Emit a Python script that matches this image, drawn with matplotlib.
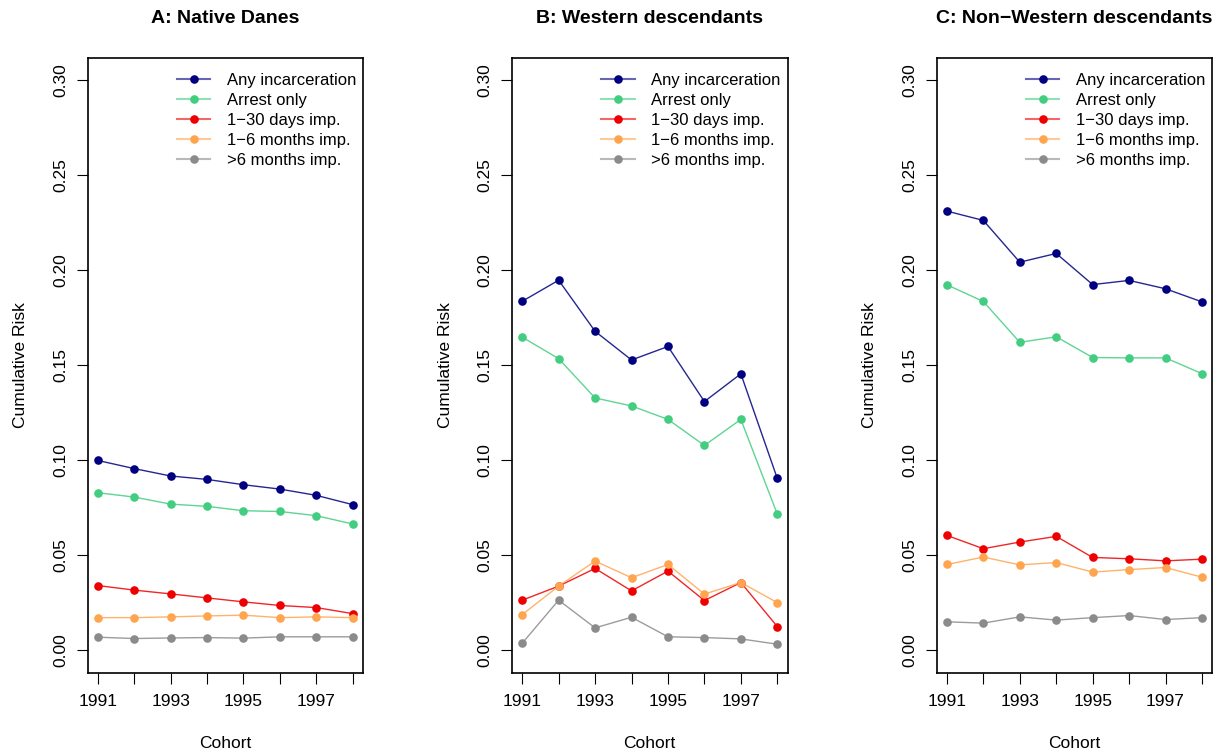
import numpy as np
import matplotlib.pyplot as plt
from matplotlib.lines import Line2D

plt.rcParams['font.family'] = ['Liberation Sans', 'DejaVu Sans']

cohorts = [1991, 1992, 1993, 1994, 1995, 1996, 1997, 1998]

series_names = ["Any incarceration", "Arrest only", "1\u221230 days imp.",
                "1\u22126 months imp.", ">6 months imp."]
series_colors = ["#000080", "#43CD80", "#EE0000", "#FFA54F", "#8B8B8B"]

# A: Native Danes
danes_any = [0.0998, 0.0955, 0.0916, 0.0898, 0.0870, 0.0847, 0.0814, 0.0765]
danes_arrest = [0.0828, 0.0805, 0.0768, 0.0756, 0.0733, 0.0729, 0.0707, 0.0663]
danes_30d = [0.0339, 0.0315, 0.0295, 0.0274, 0.0253, 0.0234, 0.0223, 0.0191]
danes_6m = [0.0170, 0.0170, 0.0174, 0.0179, 0.0183, 0.0170, 0.0174, 0.0170]
danes_long = [0.0067, 0.0060, 0.0063, 0.0065, 0.0062, 0.0069, 0.0069, 0.0069]

# B: Western descendants
west_any = [0.1836, 0.1947, 0.1678, 0.1527, 0.1598, 0.1308, 0.1454, 0.0903]
west_arrest = [0.1647, 0.1534, 0.1327, 0.1285, 0.1214, 0.1077, 0.1214, 0.0715]
west_30d = [0.0262, 0.0336, 0.0429, 0.0311, 0.0415, 0.0260, 0.0355, 0.0123]
west_6m = [0.0186, 0.0336, 0.0468, 0.0380, 0.0450, 0.0294, 0.0355, 0.0249]
west_long = [0.0035, 0.0262, 0.0116, 0.0172, 0.0069, 0.0065, 0.0058, 0.0030]

# C: Non-Western descendants
nonwest_any = [0.2311, 0.2262, 0.2042, 0.2088, 0.1924, 0.1946, 0.1902, 0.1833]
nonwest_arrest = [0.1923, 0.1835, 0.1620, 0.1649, 0.1540, 0.1538, 0.1538, 0.1455]
nonwest_30d = [0.0603, 0.0533, 0.0568, 0.0598, 0.0487, 0.0480, 0.0469, 0.0478]
nonwest_6m = [0.0450, 0.0489, 0.0448, 0.0460, 0.0410, 0.0423, 0.0434, 0.0383]
nonwest_long = [0.0148, 0.0141, 0.0174, 0.0157, 0.0170, 0.0181, 0.0160, 0.0170]

panels = [
    ("A: Native Danes", [danes_any, danes_arrest, danes_30d, danes_6m, danes_long]),
    ("B: Western descendants", [west_any, west_arrest, west_30d, west_6m, west_long]),
    ("C: Non\u2212Western descendants",
     [nonwest_any, nonwest_arrest, nonwest_30d, nonwest_6m, nonwest_long]),
]

W, H = 1217, 755
fig = plt.figure(figsize=(W / 100, H / 100), dpi=100)

lefts = [87.5, 512, 936.7]
box_w = 275.5
box_top, box_bot = 57.5, 672.7

for left, (title, series) in zip(lefts, panels):
    ax = fig.add_axes([left / W, (H - box_bot) / H, box_w / W, (box_bot - box_top) / H])
    for vals, col in zip(series, series_colors):
        ax.plot(cohorts, vals, color=col, lw=1.0, alpha=0.85, zorder=2)
        ax.plot(cohorts, vals, 'o', color=col, ms=6.2, mec='none', zorder=3)

    ax.set_xlim(1990.72, 1998.28)
    ax.set_ylim(-0.012, 0.312)
    ax.set_xticks(cohorts)
    ax.set_xticklabels([str(c) if c % 2 == 1 else "" for c in cohorts])
    ax.set_yticks(np.arange(0, 0.31, 0.05))
    ax.set_yticklabels(["%.2f" % v for v in np.arange(0, 0.31, 0.05)],
                       rotation=90, va='center')
    ax.tick_params(direction='out', length=8, width=0.8, labelsize=12.5)
    ax.tick_params(axis='x', pad=7)
    ax.tick_params(axis='y', pad=6)
    for sp in ax.spines.values():
        sp.set_linewidth(1.2)

    ax.set_xlabel("Cohort", fontsize=12.5, labelpad=20)
    ax.set_ylabel("Cumulative Risk", fontsize=12.5, labelpad=18)
    ax.set_title(title, fontsize=14, fontweight='bold', pad=25)

    # legend keys: translucent line under a solid dot
    handles = [(Line2D([0], [0], color=c, lw=1.5, alpha=0.6),
                Line2D([0], [0], ls='none', marker='o', ms=6.2, mfc=c, mec='none'))
               for c in series_colors]
    ax.legend(handles, series_names, loc='upper right', frameon=False,
              fontsize=12, handlelength=2.0, handletextpad=1.0,
              labelspacing=0.3, borderaxespad=0.5,
              bbox_to_anchor=(1.03, 1.0))

fig.savefig("out.png", dpi=100)
